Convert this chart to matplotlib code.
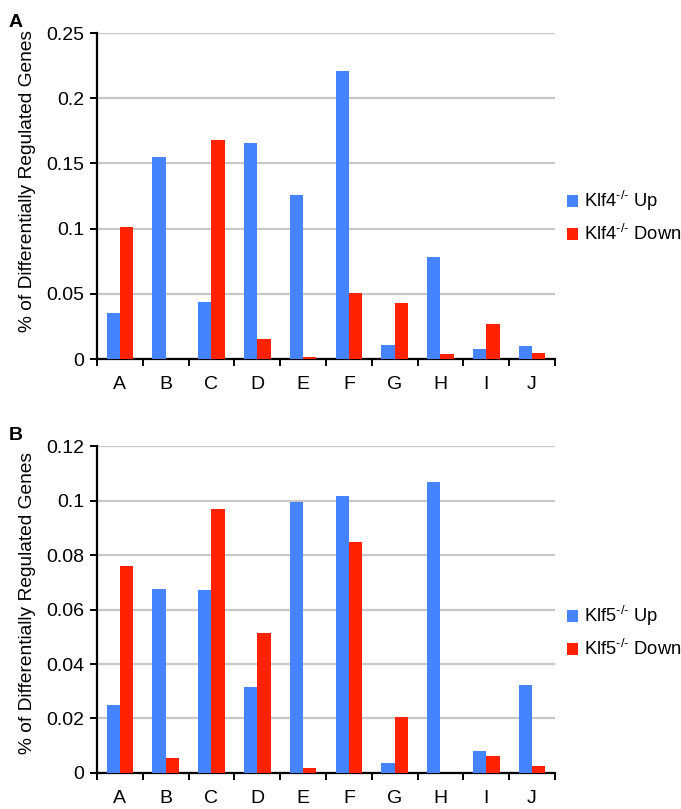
import numpy as np
import matplotlib
matplotlib.use("Agg")
import matplotlib.pyplot as plt
from matplotlib.ticker import FuncFormatter, FixedLocator

plt.rcParams['font.family'] = ['Liberation Sans', 'DejaVu Sans']
plt.rcParams['mathtext.fontset'] = 'custom'
plt.rcParams['mathtext.rm'] = 'Liberation Sans'

categories = ['A', 'B', 'C', 'D', 'E', 'F', 'G', 'H', 'I', 'J']

klf4_up = [0.0355, 0.155, 0.0437, 0.166, 0.1255, 0.2206, 0.0105, 0.078, 0.0077, 0.0097]
klf4_down = [0.1015, 0.0, 0.168, 0.0153, 0.0015, 0.0506, 0.0427, 0.0038, 0.027, 0.0048]

klf5_up = [0.025, 0.0676, 0.0673, 0.0317, 0.0994, 0.1016, 0.0038, 0.1069, 0.008, 0.0323]
klf5_down = [0.0758, 0.0056, 0.0967, 0.0513, 0.0017, 0.0847, 0.0206, 0.0, 0.0064, 0.0026]

blue = '#4683ff'
red = '#ff2200'

fig = plt.figure(figsize=(6.81, 8.09), dpi=100)


def panel(rect, up, down, gene, ymax, ystep, letter, legend_y, label_y):
    ax = fig.add_axes(rect)
    x = np.arange(len(categories))
    w = 0.29
    ax.bar(x - w / 2, up, width=w, color=blue, zorder=3,
           label=r'%s$^{\mathregular{\text{-/-}}}$ Up' % gene)
    ax.bar(x + w / 2, down, width=w, color=red, zorder=3,
           label=r'%s$^{\mathregular{\text{-/-}}}$ Down' % gene)

    ax.set_xlim(-0.5, len(categories) - 0.5)
    ax.set_ylim(0, ymax)
    ax.set_yticks(np.arange(0, ymax + ystep / 2, ystep))
    ax.yaxis.set_major_formatter(FuncFormatter(lambda v, p: '%g' % round(v, 3)))
    ax.yaxis.grid(True, color='#c8c8c8', linewidth=1.6, zorder=0)
    ax.set_axisbelow(True)

    ax.set_xticks(x)
    ax.set_xticklabels(categories)
    ax.xaxis.set_minor_locator(FixedLocator(np.arange(-0.5, len(categories), 1.0)))
    ax.tick_params(axis='x', which='major', length=0, pad=12, labelsize=14)
    ax.tick_params(axis='x', which='minor', length=5, width=1.4, direction='out')
    ax.tick_params(axis='y', length=5, width=1.4, labelsize=14, pad=4)

    for s in ['top', 'right']:
        ax.spines[s].set_visible(False)
    for s in ['left', 'bottom']:
        ax.spines[s].set_linewidth(1.6)
        ax.spines[s].set_color('black')

    ax.set_ylabel('% of Differentially Regulated Genes', fontsize=13.8)
    ax.yaxis.set_label_coords(-0.134, label_y)

    fig.text(0.013, rect[1] + rect[3] + 0.002, letter, fontsize=14, fontweight='bold',
             va='bottom', ha='left')

    ax.legend(loc='center left', bbox_to_anchor=(0.833, legend_y), bbox_transform=fig.transFigure,
              frameon=False, handlelength=0.6, handleheight=0.6, handletextpad=0.3,
              labelspacing=0.6, fontsize=13.2, borderaxespad=0, borderpad=0)
    return ax


panel([0.1424, 0.5562, 0.6725, 0.403], klf4_up, klf4_down, 'Klf4', 0.25, 0.05, 'A', 0.732, 0.545)
panel([0.1424, 0.0445, 0.6725, 0.4042], klf5_up, klf5_down, 'Klf5', 0.12, 0.02, 'B', 0.219, 0.52)

fig.savefig('out.png', dpi=100)
